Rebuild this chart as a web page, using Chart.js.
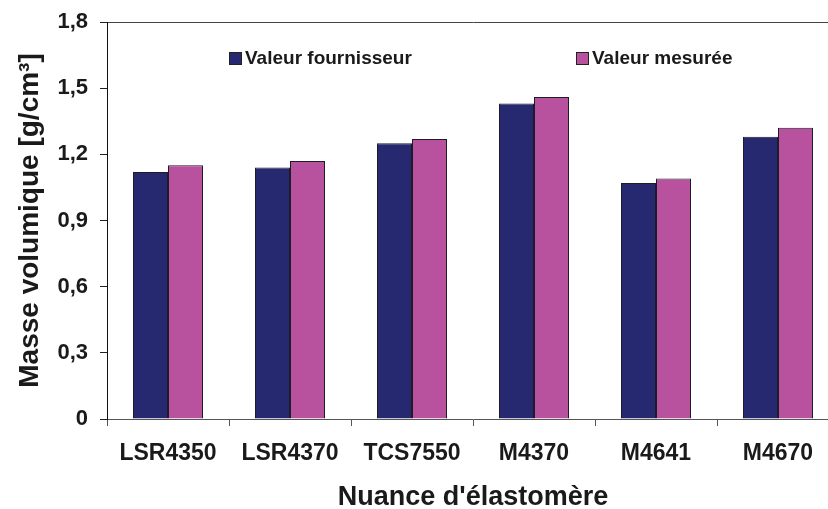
<!DOCTYPE html>
<html>
<head>
<meta charset="utf-8">
<script src="https://cdn.jsdelivr.net/npm/chart.js@4/dist/chart.umd.min.js"></script>
<style>
  html, body { margin: 0; padding: 0; background: #fff; overflow: hidden; }
  #wrap { width: 840px; height: 509px; position: relative; }
</style>
</head>
<body>
<div id="wrap"><canvas id="barChart"></canvas></div>
<script>
const categories = ['LSR4350', 'LSR4370', 'TCS7550', 'M4370', 'M4641', 'M4670'];
const valeurFournisseur = [1.12, 1.14, 1.25, 1.43, 1.07, 1.28];
const valeurMesuree = [1.15, 1.17, 1.27, 1.46, 1.09, 1.32];
const seriesNames = ['Valeur fournisseur', 'Valeur mesurée'];
const seriesColors = ['#262870', '#b9529e'];

const fontFamily = '"Liberation Sans", Arial, sans-serif';

// legend drawn inside the plot, two items spread apart
const legendPlugin = {
  id: 'insideLegend',
  afterDraw(chart) {
    const ctx = chart.ctx;
    const xs = [229, 576];
    const y = 59;
    ctx.save();
    ctx.font = 'bold 19px ' + fontFamily;
    ctx.textBaseline = 'middle';
    ctx.textAlign = 'left';
    chart.data.datasets.forEach((ds, i) => {
      ctx.fillStyle = ds.backgroundColor;
      ctx.strokeStyle = '#222';
      ctx.lineWidth = 1;
      ctx.fillRect(xs[i], y - 7, 13, 13);
      ctx.strokeRect(xs[i] + 0.5, y - 6.5, 12, 12);
      ctx.fillStyle = '#1a1a1a';
      ctx.fillText(ds.label, xs[i] + 16, y);
    });
    ctx.restore();
  }
};

let chartdata = {};
chartdata.labels = categories;
chartdata.datasets = [
  { label: seriesNames[0], data: valeurFournisseur, backgroundColor: seriesColors[0] },
  { label: seriesNames[1], data: valeurMesuree, backgroundColor: seriesColors[1] }
];
chartdata.datasets.forEach(ds => {
  ds.borderColor = '#1c1c28';
  ds.borderWidth = 1;
  ds.categoryPercentage = 0.574;
  ds.barPercentage = 1;
});

let options = {};
options.responsive = true;
options.maintainAspectRatio = false;
options.animation = false;
options.layout = { padding: { top: 22, right: 1, bottom: 0, left: 0 } };
options.plugins = { legend: { display: false }, tooltip: { enabled: false } };
options.scales = {
  x: {
    grid: {
      offset: true,
      drawOnChartArea: false,
      tickColor: '#555',
      tickLength: 7
    },
    border: { color: '#555', width: 1 },
    ticks: {
      color: '#1a1a1a',
      padding: 14,
      maxRotation: 0,
      font: { family: fontFamily, size: 23, weight: 'bold' }
    },
    title: {
      display: true,
      text: "Nuance d'élastomère",
      color: '#1a1a1a',
      padding: { top: 0, bottom: -2 },
      font: { family: fontFamily, size: 27, weight: 'bold', lineHeight: 1 }
    },
    afterFit: s => { s.height = 90; }
  },
  y: {
    min: 0,
    max: 1.8,
    grid: {
      color: c => (c.tick && Math.abs(c.tick.value - 1.8) < 1e-6) ? '#444' : 'rgba(0,0,0,0)',
      tickColor: '#222',
      tickLength: 7
    },
    border: { color: '#111', width: 1 },
    ticks: {
      stepSize: 0.3,
      color: '#1a1a1a',
      padding: 12,
      font: { family: fontFamily, size: 22, weight: 'bold' },
      callback: v => v === 0 ? '0' : v.toFixed(1).replace('.', ',')
    },
    title: {
      display: true,
      text: 'Masse volumique [g/cm³]',
      color: '#1a1a1a',
      padding: { top: 13, bottom: 0 },
      font: { family: fontFamily, size: 28, weight: 'bold' }
    },
    // fixed axis width; let the layout padding alone set the top edge
    afterFit: s => { s.width = 107; s.paddingTop = 0; s.paddingBottom = 0; }
  }
};

new Chart(document.getElementById('barChart'), {
  type: 'bar',
  data: chartdata,
  options: options,
  plugins: [legendPlugin]
});
</script>
</body>
</html>
